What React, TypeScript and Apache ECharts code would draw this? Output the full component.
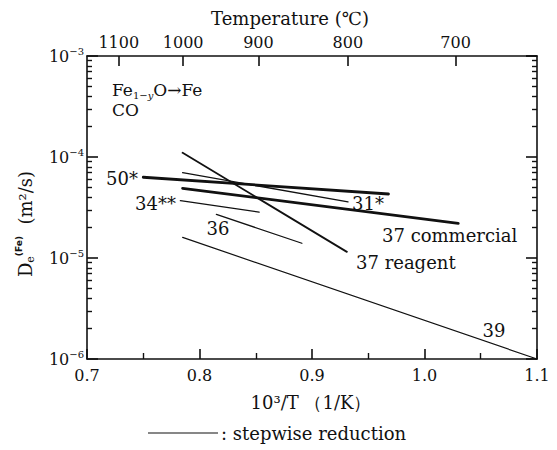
import React, { useEffect, useRef } from 'react';
import * as echarts from 'echarts';

// ---- data ----
const xMin = 0.7;
const xMax = 1.1;
const xInterval = 0.1;
const tempTicksC = [1100, 1000, 900, 800, 700];
const yMin = 1e-6;
const yMax = 1e-3;
const yMinorTicks = [
  2e-6, 3e-6, 4e-6, 5e-6, 6e-6, 7e-6, 8e-6, 9e-6,
  2e-5, 3e-5, 4e-5, 5e-5, 6e-5, 7e-5, 8e-5, 9e-5,
  2e-4, 3e-4, 4e-4, 5e-4, 6e-4, 7e-4, 8e-4, 9e-4,
];

// each line: [x(10^3/T), D(m2/s)]
const line50 = [[0.750, 6.3e-5], [0.968, 4.3e-5]];
const line37c = [[0.785, 4.9e-5], [1.030, 2.2e-5]];
const line31 = [[0.785, 7.0e-5], [0.932, 3.6e-5]];
const line37r = [[0.785, 1.1e-4], [0.931, 1.15e-5]];
const line34 = [[0.783, 3.7e-5], [0.853, 2.85e-5]];
const line36 = [[0.815, 2.7e-5], [0.891, 1.4e-5]];
const line39 = [[0.785, 1.6e-5], [1.100, 1.0e-6]];

const lineNames = ['50*', '37 commercial', '31*', '37 reagent', '34**', '36', '39'];
const lineData = [line50, line37c, line31, line37r, line34, line36, line39];
const lineWidths = [2.8, 2.8, 1.3, 1.8, 1.3, 1.3, 1.2];

const FONT = '"DejaVu Serif", serif';
const INK = '#111';

export default function App() {
  const ref = useRef<HTMLDivElement>(null);
  useEffect(() => {
    document.body.style.margin = '0';
    if (!ref.current) return;
    const chart = echarts.init(ref.current, null, { renderer: 'svg' });
    const tempPos = tempTicksC.map((c) => 1000 / (c + 273.15));
    const minorLog = yMinorTicks.map((v) => Math.log10(v));
    const axisLineStyle = { color: INK, width: 1.6 };
    const supRich = {
      b: { fontSize: 16, fontFamily: FONT, color: INK, lineHeight: 20 },
      s: { fontSize: 10, fontFamily: FONT, color: INK, verticalAlign: 'top', lineHeight: 10 },
    };
    const yLabel = (v: number) => `{b|10}{s|−${Math.abs(Math.round(Math.log10(v)))}}`;

    const txt = (text: string, x: number, y: number, align = 'left', size = 18) => ({
      type: 'text',
      x,
      y,
      silent: true,
      style: { text, fontFamily: FONT, fontSize: size, fill: INK, align, verticalAlign: 'middle' },
    });

    const minorAxis = (position: string) => ({
      type: 'value',
      position,
      min: Math.log10(yMin),
      max: Math.log10(yMax),
      axisLine: { show: false },
      axisTick: {
        show: true,
        inside: true,
        length: 5,
        customValues: minorLog,
        lineStyle: { color: INK, width: 1.4 },
      },
      axisLabel: { show: false },
      splitLine: { show: false },
    });

    chart.setOption({
      animation: false,
      backgroundColor: '#fff',
      grid: { left: 87, right: 20, top: 56, bottom: 91, containLabel: false, outerBoundsMode: 'none' },
      xAxis: [
        {
          type: 'value',
          position: 'bottom',
          min: xMin,
          max: xMax,
          interval: xInterval,
          axisLine: { show: true, lineStyle: axisLineStyle },
          axisTick: { show: true, inside: true, length: 10, lineStyle: axisLineStyle },
          minorTick: { show: true, splitNumber: 2, length: 6, lineStyle: { color: INK, width: 1.4 } },
          axisLabel: {
            formatter: (v: number) => v.toFixed(1),
            fontFamily: FONT,
            fontSize: 16,
            color: INK,
            margin: 8,
            showMinLabel: true,
            showMaxLabel: true,
          },
          splitLine: { show: false },
          minorSplitLine: { show: false },
        },
        {
          type: 'value',
          position: 'top',
          min: xMin,
          max: xMax,
          axisLine: { show: true, lineStyle: axisLineStyle },
          axisTick: { show: true, inside: true, length: 10, customValues: tempPos, lineStyle: axisLineStyle },
          axisLabel: {
            customValues: tempPos,
            formatter: (v: number) => String(Math.round(1000 / v - 273.15)),
            fontFamily: FONT,
            fontSize: 16,
            color: INK,
            margin: 6,
          },
          splitLine: { show: false },
        },
      ],
      yAxis: [
        {
          type: 'log',
          logBase: 10,
          position: 'left',
          min: yMin,
          max: yMax,
          axisLine: { show: true, lineStyle: axisLineStyle },
          axisTick: { show: true, inside: true, length: 11, lineStyle: axisLineStyle },
          axisLabel: { formatter: yLabel, rich: supRich, margin: 3 },
          splitLine: { show: false },
        },
        minorAxis('left'),
        {
          type: 'log',
          logBase: 10,
          position: 'right',
          min: yMin,
          max: yMax,
          axisLine: { show: true, lineStyle: axisLineStyle },
          axisTick: { show: true, inside: true, length: 11, lineStyle: axisLineStyle },
          axisLabel: { show: false },
          splitLine: { show: false },
        },
        minorAxis('right'),
      ],
      series: lineData.map((d, i) => ({
        name: lineNames[i],
        type: 'line',
        xAxisIndex: 0,
        yAxisIndex: 0,
        data: d,
        symbol: 'none',
        silent: true,
        lineStyle: { color: INK, width: lineWidths[i], cap: 'round' },
      })),
      graphic: [
        txt('Temperature (℃)', 290, 18, 'center', 18),
        {
          type: 'text',
          x: 112,
          y: 90,
          silent: true,
          style: {
            text: '{a|Fe}{s|1−}{i|y}{a|O→Fe}',
            fill: INK,
            verticalAlign: 'middle',
            rich: {
              a: { fontSize: 17, fontFamily: FONT, lineHeight: 20 },
              s: { fontSize: 10, fontFamily: FONT, verticalAlign: 'bottom', lineHeight: 11 },
              i: { fontSize: 10, fontFamily: FONT, fontStyle: 'italic', verticalAlign: 'bottom', lineHeight: 11 },
            },
          },
        },
        txt('CO', 112, 110, 'left', 17),
        txt('50*', 138, 178, 'right'),
        txt('34**', 176, 203, 'right'),
        txt('36', 218, 228, 'center'),
        txt('31*', 352, 203, 'left'),
        txt('37 commercial', 382, 235, 'left'),
        txt('37 reagent', 356, 262, 'left'),
        txt('39', 494, 330, 'center'),
        txt('10³/T （1/K）', 311, 402, 'center', 18),
        {
          type: 'line',
          silent: true,
          shape: { x1: 148, y1: 433, x2: 218, y2: 433 },
          style: { stroke: INK, lineWidth: 1.2 },
        },
        txt(': stepwise reduction', 221, 433, 'left', 18),
        {
          type: 'text',
          x: 25,
          y: 224,
          rotation: Math.PI / 2,
          silent: true,
          style: {
            text: '{d|D}{e|e}{f|(Fe)}{d|  (m²/s)}',
            fill: INK,
            align: 'center',
            verticalAlign: 'middle',
            rich: {
              d: { fontSize: 18, fontFamily: FONT, lineHeight: 22 },
              e: { fontSize: 11, fontFamily: FONT, verticalAlign: 'bottom', lineHeight: 11 },
              f: { fontSize: 9, fontFamily: '"DejaVu Sans", sans-serif', fontWeight: 'bold', verticalAlign: 'top', lineHeight: 10 },
            },
          },
        },
      ],
    });
    return () => chart.dispose();
  }, []);
  return <div ref={ref} style={{ width: 557, height: 450 }} />;
}
